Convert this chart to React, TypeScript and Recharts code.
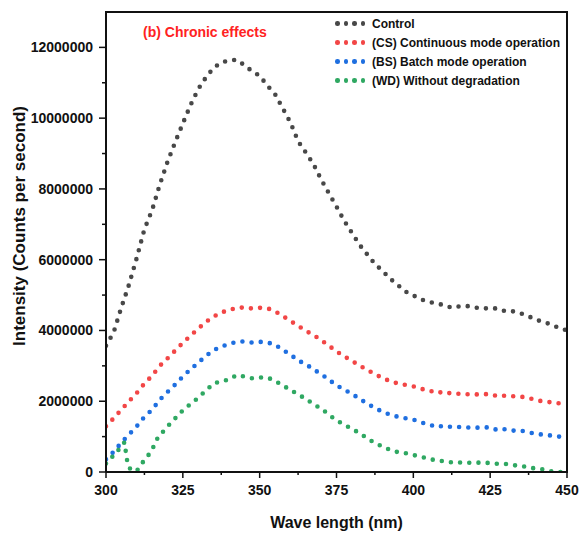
import React from 'react';
import { LineChart, Line, XAxis, YAxis, Legend, Label } from 'recharts';

// Wavelength grid (nm) for Control, CS and BS
const wavelengths = [
  300, 302.5, 305, 307.5, 310, 312.5, 315, 317.5, 320, 322.5, 325, 327.5, 330, 332.5, 335, 337.5,
  340, 342.5, 345, 347.5, 350, 352.5, 355, 357.5, 360, 362.5, 365, 367.5, 370, 372.5, 375, 377.5,
  380, 382.5, 385, 387.5, 390, 392.5, 395, 397.5, 400, 402.5, 405, 407.5, 410, 412.5, 415, 417.5,
  420, 422.5, 425, 427.5, 430, 432.5, 435, 437.5, 440, 442.5, 445, 447.5, 450,
];

// Intensities in millions of counts per second
const controlValues = [
  3.57, 3.95, 4.65, 5.3, 6.05, 6.86, 7.4, 8.12, 8.76, 9.32, 9.85, 10.37, 10.82, 11.15, 11.42, 11.57,
  11.63, 11.65, 11.5, 11.33, 11.2, 10.92, 10.68, 10.28, 9.88, 9.35, 9.03, 8.7, 8.27, 7.88, 7.5, 7.1,
  6.76, 6.42, 6.15, 5.88, 5.68, 5.46, 5.28, 5.1, 4.99, 4.88, 4.81, 4.76, 4.72, 4.64, 4.68, 4.69,
  4.65, 4.62, 4.63, 4.62, 4.54, 4.54, 4.48, 4.4, 4.3, 4.24, 4.16, 4.07, 4.0,
];
const csValues = [
  1.29, 1.52, 1.76, 2.0, 2.23, 2.5, 2.72, 3.0, 3.21, 3.43, 3.65, 3.85, 4.05, 4.24, 4.39, 4.51,
  4.57, 4.64, 4.65, 4.62, 4.64, 4.63, 4.54, 4.41, 4.27, 4.13, 3.99, 3.87, 3.73, 3.57, 3.41, 3.27,
  3.14, 3.01, 2.88, 2.77, 2.65, 2.57, 2.5, 2.46, 2.42, 2.35, 2.31, 2.23, 2.27, 2.21, 2.21, 2.2,
  2.19, 2.2, 2.2, 2.14, 2.16, 2.14, 2.13, 2.09, 2.03, 1.99, 1.97, 1.94, 1.91,
];
const bsValues = [
  0.36, 0.57, 0.83, 1.06, 1.29, 1.56, 1.76, 2.04, 2.26, 2.47, 2.7, 2.9, 3.09, 3.28, 3.44, 3.55,
  3.61, 3.68, 3.69, 3.66, 3.68, 3.66, 3.6, 3.45, 3.32, 3.15, 3.05, 2.9, 2.77, 2.61, 2.45, 2.33,
  2.21, 2.07, 1.93, 1.81, 1.7, 1.62, 1.56, 1.52, 1.48, 1.4, 1.35, 1.27, 1.31, 1.27, 1.27, 1.26,
  1.25, 1.26, 1.26, 1.18, 1.21, 1.17, 1.17, 1.12, 1.08, 1.05, 1.03, 1.0, 0.97,
];

// WD has its own wavelength grid (finer around the dip)
const wdWavelengths = [
  300, 302.5, 305, 306, 307, 308, 310, 312, 314, 315.5, 317, 319, 321, 323, 325.5, 328, 330.5, 333,
  335, 337.5, 340, 342.5, 345, 347.5, 350, 352.5, 355, 357.5, 360, 362.5, 365, 367.5, 370, 372.5,
  375, 377.5, 380, 382.5, 385, 387.5, 390, 392.5, 395, 397.5, 400, 402.5, 405, 407.5, 410, 412.5,
  415, 417.5, 420, 422.5, 425, 427.5, 430, 432.5, 435, 437.5, 440, 442.5, 445, 447.5, 450,
];
const wdValues = [
  0.24, 0.47, 0.72, 0.84, 0.25, 0.06, 0.03, 0.28, 0.5, 0.72, 1.0, 1.18, 1.38, 1.56, 1.79, 1.95, 2.14, 2.34,
  2.5, 2.57, 2.61, 2.74, 2.7, 2.65, 2.67, 2.67, 2.58, 2.44, 2.33, 2.18, 2.08, 1.91, 1.8, 1.62,
  1.46, 1.34, 1.22, 1.1, 0.95, 0.82, 0.72, 0.62, 0.56, 0.53, 0.48, 0.43, 0.38, 0.32, 0.31, 0.27,
  0.27, 0.26, 0.26, 0.27, 0.25, 0.23, 0.23, 0.19, 0.18, 0.12, 0.1, 0.07, 0.02, 0.0, 0.0,
];

const seriesNames = [
  'Control',
  '(CS) Continuous mode operation',
  '(BS) Batch mode operation',
  '(WD) Without degradation',
];
const seriesColors = ['#484848', '#f24646', '#1f6fe0', '#2fa862'];

const xTickValues = [300, 312.5, 325, 337.5, 350, 362.5, 375, 387.5, 400, 412.5, 425, 437.5, 450];
const xMajorTicks = [300, 325, 350, 375, 400, 425, 450];
const yTickValues = [
  0, 1000000, 2000000, 3000000, 4000000, 5000000, 6000000, 7000000, 8000000, 9000000, 10000000,
  11000000, 12000000,
];
const yMajorTicks = [0, 2000000, 4000000, 6000000, 8000000, 10000000, 12000000];
const X_MAX = 450;
const Y_MAX = 13000000;

const MILLION = 1000000;
const toRows = (xs: number[], vs: number[]) => xs.map((x, i) => ({ x, v: vs[i] * MILLION }));
const controlRows = toRows(wavelengths, controlValues);
const csRows = toRows(wavelengths, csValues);
const bsRows = toRows(wavelengths, bsValues);
const wdRows = toRows(wdWavelengths, wdValues);

const FONT = '"Liberation Sans", Arial, sans-serif';
const INK = '#111';

// chart layout
const W = 580;
const H = 535;
const M_TOP = 12;
const M_RIGHT = 13;
const Y_AXIS_W = 106;
const X_AXIS_H = 63;

const YTick = (props: any) => {
  const { x, y, payload } = props;
  const major = yMajorTicks.includes(payload.value);
  return (
    <g>
      <line x1={x - (major ? 7 : 4)} x2={x} y1={y} y2={y} stroke={INK} strokeWidth={1.5} />
      {major && (
        <text x={x - 13} y={y + 5} textAnchor="end" fontFamily={FONT} fontWeight={700} fontSize={14} fill={INK}>
          {payload.value}
        </text>
      )}
    </g>
  );
};

const XTick = (props: any) => {
  const { x, y, payload } = props;
  const major = xMajorTicks.includes(payload.value);
  return (
    <g>
      <line x1={x} x2={x} y1={y} y2={y + (major ? 6 : 3)} stroke={INK} strokeWidth={1.5} />
      {major && (
        <text x={x} y={y + 23} textAnchor="middle" fontFamily={FONT} fontWeight={700} fontSize={14} fill={INK}>
          {payload.value}
        </text>
      )}
    </g>
  );
};

const YLabel = (props: any) => {
  const { viewBox } = props;
  const cx = viewBox.x + 19;
  const cy = viewBox.y + viewBox.height / 2 - 16;
  return (
    <text
      x={cx}
      y={cy}
      transform={`rotate(-90, ${cx}, ${cy})`}
      textAnchor="middle"
      dominantBaseline="central"
      fontFamily={FONT}
      fontWeight={700}
      fontSize={17}
      fill={INK}
    >
      Intensity (Counts per second)
    </text>
  );
};

// X axis title, plus the top and right borders of the plot frame
const XLabel = (props: any) => {
  const { viewBox } = props;
  const left = viewBox.x;
  const right = viewBox.x + viewBox.width;
  const bottom = viewBox.y;
  return (
    <g>
      <path
        d={`M ${left - 1} ${M_TOP} H ${right} V ${bottom + 1}`}
        fill="none"
        stroke={INK}
        strokeWidth={2}
      />
      <text
        x={left + viewBox.width / 2}
        y={bottom + 56}
        textAnchor="middle"
        fontFamily={FONT}
        fontWeight={700}
        fontSize={16}
        fill={INK}
      >
        Wave length (nm)
      </text>
    </g>
  );
};

const renderLegend = () => (
  <div style={{ fontFamily: FONT, fontWeight: 700, fontSize: 12, color: INK }}>
    {seriesNames.map((name, k) => (
      <div key={name} style={{ display: 'flex', alignItems: 'center', height: 19, whiteSpace: 'nowrap' }}>
        {[0, 1, 2, 3].map((i) => (
          <span
            key={i}
            style={{
              display: 'inline-block',
              width: 4.5,
              height: 4.5,
              borderRadius: '50%',
              background: seriesColors[k],
              marginRight: 4,
            }}
          />
        ))}
        <span style={{ marginLeft: 3 }}>{name}</span>
      </div>
    ))}
  </div>
);

const dotted = {
  strokeWidth: 4.6,
  strokeDasharray: '0 9.2',
  strokeLinecap: 'round' as const,
};

export default function App() {
  return (
    <div style={{ position: 'absolute', left: 0, top: 0, width: W, height: H, background: '#fff' }}>
      <LineChart width={W} height={H} margin={{ top: M_TOP, right: M_RIGHT, bottom: 0, left: 0 }}>
        <XAxis
          type="number"
          dataKey="x"
          domain={[300, X_MAX]}
          ticks={xTickValues}
          interval={0}
          allowDataOverflow
          height={X_AXIS_H}
          tickSize={0}
          tickMargin={0}
          tickLine={false}
          tick={<XTick />}
          axisLine={{ stroke: INK, strokeWidth: 2 }}
        >
          <Label content={<XLabel />} />
        </XAxis>
        <YAxis
          type="number"
          domain={[0, Y_MAX]}
          ticks={yTickValues}
          interval={0}
          allowDataOverflow
          width={Y_AXIS_W}
          tickSize={0}
          tickMargin={0}
          tickLine={false}
          tick={<YTick />}
          axisLine={{ stroke: INK, strokeWidth: 2 }}
        >
          <Label content={<YLabel />} />
        </YAxis>
        <Legend
          layout="vertical"
          align="center"
          verticalAlign="middle"
          content={renderLegend}
          wrapperStyle={{ left: 335, top: 14, width: 240 }}
        />
        <Line data={controlRows} dataKey="v" name={seriesNames[0]} stroke={seriesColors[0]} dot={false} isAnimationActive={false} {...dotted} />
        <Line data={csRows} dataKey="v" name={seriesNames[1]} stroke={seriesColors[1]} dot={false} isAnimationActive={false} {...dotted} />
        <Line data={bsRows} dataKey="v" name={seriesNames[2]} stroke={seriesColors[2]} dot={false} isAnimationActive={false} {...dotted} />
        <Line data={wdRows} dataKey="v" name={seriesNames[3]} stroke={seriesColors[3]} dot={false} isAnimationActive={false} {...dotted} />
      </LineChart>
      <div
        style={{
          position: 'absolute',
          left: 143,
          top: 24,
          zIndex: 6,
          fontFamily: FONT,
          fontWeight: 700,
          fontSize: 14,
          color: '#ff2222',
          whiteSpace: 'nowrap',
        }}
      >
        (b) Chronic effects
      </div>
    </div>
  );
}
